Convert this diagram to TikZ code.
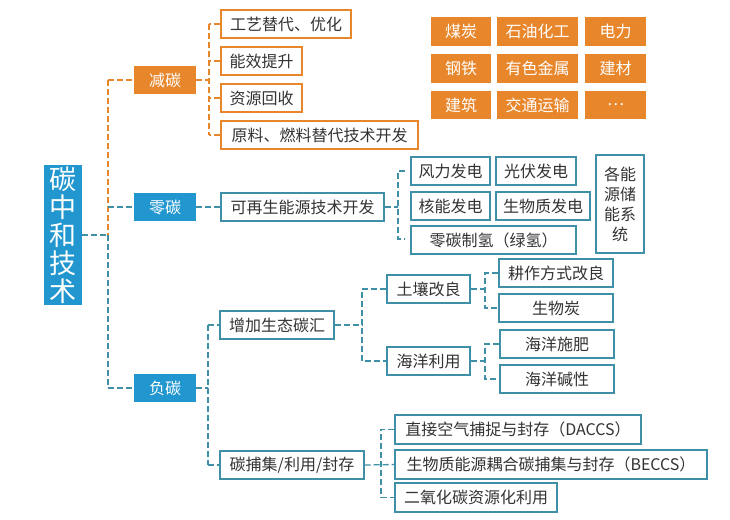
\documentclass[tikz,border=0pt]{standalone}
\usepackage{fontspec}
\setmainfont{Noto Sans CJK SC}
\begin{document}
\definecolor{org}{HTML}{E8862C}
\definecolor{blu}{HTML}{2196CF}
\definecolor{tel}{HTML}{3F8FA6}
\definecolor{txt}{HTML}{333333}
\begin{tikzpicture}[x=1pt,y=1pt,
  base/.style={rectangle,inner sep=0pt,font=\fontsize{16}{18}\selectfont},
  ob/.style={base,draw=org,line width=1.3pt,fill=white,text=txt},
  tb/.style={base,draw=tel,line width=1.3pt,fill=white,text=txt},
  of/.style={base,fill=org,text=white},
  bf/.style={base,fill=blu,text=white},
  od/.style={draw=org,line width=1.3pt,dash pattern=on 6pt off 3pt},
  bd/.style={draw=tel,line width=1.3pt,dash pattern=on 6pt off 3pt}]
\newcommand\bx[7]{\node[#6,minimum width={#4-#2},minimum height={#5-#3}] (#1) at ({(#2+#4)/2},{-(#3+#5)/2}) {#7};}
\useasboundingbox (0,0) rectangle (730,-519);
\fill[white] (0,0) rectangle (730,-519);
% root
\node[bf,minimum width=38,minimum height=140,align=center,font=\fontsize{27}{28}\selectfont] (root) at (63,-235) {碳\\中\\和\\技\\术};
% level 1
\bx{jt}{134}{66}{196}{94}{of}{减碳}
\bx{lt}{134}{193}{196}{221}{bf}{零碳}
\bx{ft}{134}{374}{196}{402}{bf}{负碳}
\coordinate (r1) at (108,-235);
\coordinate (v1a) at (108,-80);
\coordinate (v1b) at (108,-207);
\coordinate (v1c) at (108,-388);
\draw[bd] (root.east) -- (root.east -| r1);
\draw[od] (v1a) -- (r1);
\draw[bd] (r1) -- (v1c);
\draw[od] (v1a) -- (jt.west);
\draw[bd] (v1b) -- (lt.west);
\draw[bd] (v1c) -- (ft.west);
% reduce carbon
\bx{a1}{221}{10}{351}{38}{ob}{工艺替代、优化}
\bx{a2}{221}{47}{302}{75}{ob}{能效提升}
\bx{a3}{221}{84}{302}{112}{ob}{资源回收}
\bx{a4}{221}{121}{418}{149}{ob}{原料、燃料替代技术开发}
\coordinate (va) at (209,-80);
\draw[od] (jt.east) -- (va);
\draw[od] (209,-24) -- (209,-135);
\foreach \n in {a1,a2,a3,a4} \draw[od] (\n.west) -- (\n.west -| va);
% industries
\bx{i1}{431}{17}{491}{46}{of}{煤炭}
\bx{i2}{497}{17}{578}{46}{of}{石油化工}
\bx{i3}{585}{17}{646}{46}{of}{电力}
\bx{i4}{431}{54}{491}{83}{of}{钢铁}
\bx{i5}{497}{54}{578}{83}{of}{有色金属}
\bx{i6}{585}{54}{646}{83}{of}{建材}
\bx{i7}{431}{91}{491}{119}{of}{建筑}
\bx{i8}{497}{91}{578}{119}{of}{交通运输}
\bx{i9}{585}{91}{646}{119}{of}{…}
% zero carbon
\bx{zr}{221}{193}{384}{221}{tb}{可再生能源技术开发}
\draw[bd] (lt.east) -- (zr.west);
\bx{z1}{411}{157}{490}{185}{tb}{风力发电}
\bx{z2}{496}{157}{576}{185}{tb}{光伏发电}
\bx{z3}{411}{192}{490}{220}{tb}{核能发电}
\bx{z4}{496}{192}{590}{220}{tb}{生物质发电}
\bx{z5}{411}{226}{576}{254}{tb}{零碳制氢（绿氢）}
\node[tb,minimum width=48,minimum height=98,align=center,font=\fontsize{16}{20}\selectfont] (z6) at (620,-204) {各能\\源储\\能系\\统};
\coordinate (vz) at (398,-207);
\draw[bd] (zr.east) -- (zr.east -| vz);
\draw[bd] (405,-171) -- (398,-171) -- (398,-239) -- (405,-239);
% negative carbon
\bx{n1}{220}{311}{334}{339}{tb}{增加生态碳汇}
\bx{n2}{220}{451}{364}{479}{tb}{碳捕集/利用/封存}
\coordinate (vn) at (208,-388);
\draw[bd] (ft.east) -- (vn);
\draw[bd] (n1.west -| vn) -- (n2.west -| vn);
\draw[bd] (n1.west -| vn) -- (n1.west);
\draw[bd] (n2.west -| vn) -- (n2.west);
\bx{s1}{387}{275}{470}{303}{tb}{土壤改良}
\bx{s2}{387}{347}{470}{375}{tb}{海洋利用}
\coordinate (vs) at (362,0);
\draw[bd] (n1.east) -- (n1.east -| vs);
\draw[bd] (s1.west) -- (s1.west -| vs) -- (s2.west -| vs) -- (s2.west);
\bx{t1}{499}{259}{613}{287}{tb}{耕作方式改良}
\bx{t2}{499}{294}{613}{322}{tb}{生物炭}
\bx{t3}{500}{330}{614}{358}{tb}{海洋施肥}
\bx{t4}{500}{365}{614}{393}{tb}{海洋碱性}
\coordinate (vt) at (485,0);
\draw[bd] (s1.east) -- (s1.east -| vt);
\draw[bd] (t1.west) -- (t1.west -| vt) -- (t2.west -| vt) -- (t2.west);
\draw[bd] (s2.east) -- (s2.east -| vt);
\draw[bd] (t3.west) -- (t3.west -| vt) -- (t4.west -| vt) -- (t4.west);
\bx{c1}{395}{415}{641}{444}{tb}{直接空气捕捉与封存（DACCS）}
\bx{c2}{395}{450}{707}{479}{tb}{生物质能源耦合碳捕集与封存（BECCS）}
\bx{c3}{395}{483}{557}{512}{tb}{二氧化碳资源化利用}
\coordinate (vc) at (381,0);
\draw[bd] (n2.east) -- (c2.west);
\draw[bd] (c1.west) -- (c1.west -| vc) -- (c3.west -| vc) -- (c3.west);
\end{tikzpicture}
\end{document}
